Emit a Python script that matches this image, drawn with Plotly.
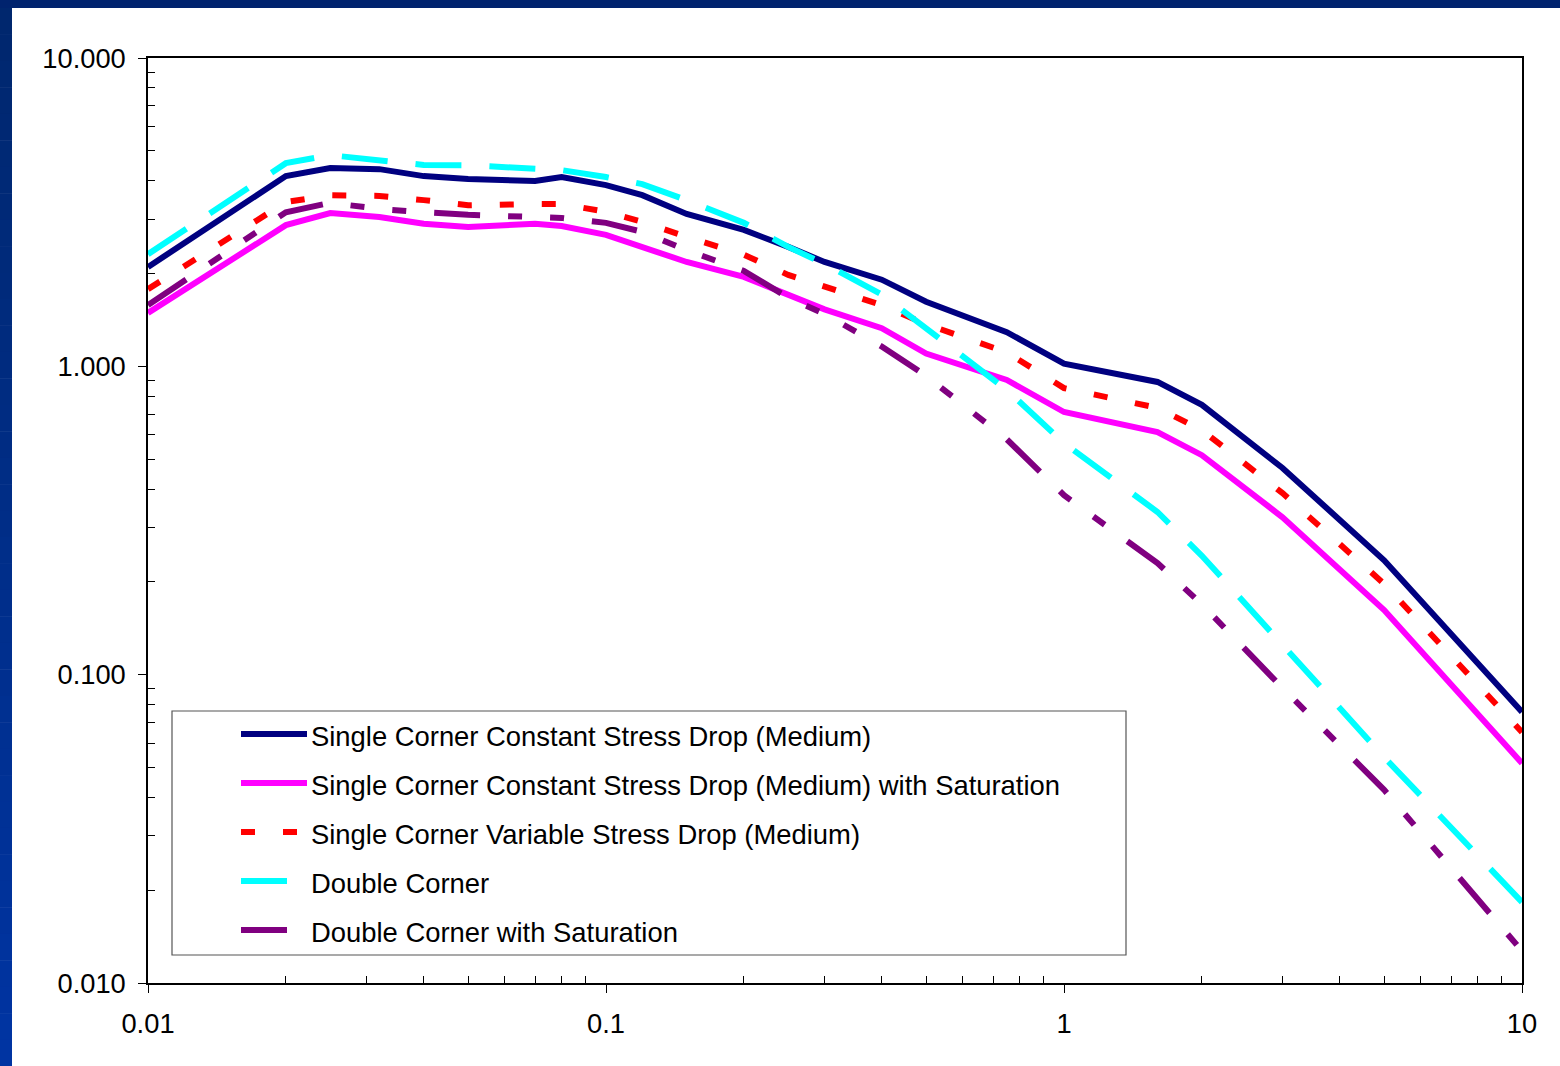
import plotly.graph_objects as go

# Spectral period (s)
period = [0.01, 0.02, 0.025, 0.032, 0.04, 0.05, 0.07, 0.08, 0.1, 0.12, 0.15, 0.2,
          0.25, 0.3, 0.4, 0.5, 0.75, 1.0, 1.6, 2.0, 3.0, 4.0, 5.0, 10.0]

# Spectral acceleration for each model
sc_const = [2.10, 4.14, 4.40, 4.36, 4.14, 4.05, 3.99, 4.11, 3.87, 3.59, 3.12, 2.77,
            2.44, 2.18, 1.91, 1.62, 1.29, 1.02, 0.89, 0.75, 0.468, 0.317, 0.235, 0.0757]
sc_const_sat = [1.49, 2.87, 3.14, 3.05, 2.90, 2.83, 2.90, 2.85, 2.67, 2.44, 2.18, 1.95,
                1.70, 1.53, 1.33, 1.10, 0.903, 0.711, 0.612, 0.515, 0.324, 0.219, 0.162, 0.0516]
sc_var = [1.78, 3.41, 3.59, 3.57, 3.46, 3.33, 3.36, 3.36, 3.17, 2.94, 2.63, 2.30,
          1.98, 1.81, 1.58, 1.37, 1.11, 0.85, 0.733, 0.621, 0.388, 0.265, 0.197, 0.0651]
double_corner = [2.31, 4.56, 4.84, 4.67, 4.50, 4.49, 4.41, 4.33, 4.11, 3.90, 3.46, 2.92,
                 2.44, 2.15, 1.71, 1.33, 0.838, 0.564, 0.337, 0.243, 0.125, 0.078, 0.054, 0.0183]
double_corner_sat = [1.58, 3.16, 3.39, 3.24, 3.16, 3.10, 3.05, 3.03, 2.92, 2.73, 2.38, 2.04,
                     1.67, 1.48, 1.16, 0.931, 0.58, 0.382, 0.230, 0.169, 0.0905, 0.059, 0.0423, 0.0127]

series_names = [
    "Single Corner Constant Stress Drop (Medium)",
    "Single Corner Constant Stress Drop (Medium) with Saturation",
    "Single Corner Variable Stress Drop (Medium)",
    "Double Corner",
    "Double Corner with Saturation",
]
series_values = [sc_const, sc_const_sat, sc_var, double_corner, double_corner_sat]
series_colors = ["#000080", "#FF00FF", "#FF0000", "#00FFFF", "#800080"]
series_dash = ["solid", "solid", "14px,28px", "46px,28px",
               "46px,28px,14px,28px,14px,28px"]

x_tickvals = [0.01, 0.1, 1, 10]
x_ticktext = ["0.01", "0.1", "1", "10"]
y_tickvals = [0.01, 0.1, 1, 10]
y_ticktext = ["0.010", "0.100", "1.000", "10.000"]

W, H = 1560, 1066
ML, MR, MT, MB = 148, 38, 58, 83
PW, PH = W - ML - MR, H - MT - MB


def px_x(p):
    return (p - ML) / PW


def px_y(p):
    return (H - MB - p) / PH


FONT = "Liberation Sans, Arial, sans-serif"

fig = go.Figure()
for name, vals, col, dash in zip(series_names, series_values, series_colors, series_dash):
    fig.add_trace(go.Scatter(
        x=period, y=vals, name=name, mode="lines",
        line=dict(color=col, width=6, dash=dash),
        showlegend=False,
    ))

minor_vals = [m * 10 ** e for e in range(-2, 1) for m in range(2, 10)]

axis_common = dict(
    type="log", range=[-2, 1],
    showgrid=False, zeroline=False,
    showline=True, linecolor="#000000", linewidth=1.5, mirror=True,
    ticks="outside", ticklen=8, tickwidth=1, tickcolor="#000000",
    tickfont=dict(family=FONT, size=27.3, color="#000000"),
    tickmode="array",
    minor=dict(tickmode="array", tickvals=minor_vals, ticks="inside",
               ticklen=7, tickwidth=1, tickcolor="#000000", showgrid=False),
)

fig.update_xaxes(**axis_common, tickvals=x_tickvals, ticktext=x_ticktext,
                 ticklabelstandoff=7)
fig.update_yaxes(**axis_common, tickvals=y_tickvals, ticktext=y_ticktext,
                 ticklabelstandoff=7)

shapes = []
# slide frame: dark blue band on top and a shaded band down the left side
shapes.append(dict(type="rect", xref="paper", yref="paper",
                   x0=px_x(0), x1=px_x(W), y0=px_y(8), y1=px_y(0),
                   fillcolor="#00236E", line=dict(width=0), layer="above"))
n_band = 40
for i in range(n_band):
    t = i / (n_band - 1)
    g = int(round(0x27 + (0x34 - 0x27) * t))
    b = int(round(0x6E + (0xA2 - 0x6E) * t))
    y0 = 8 + (H - 8) * i / n_band
    y1 = 8 + (H - 8) * (i + 1) / n_band
    shapes.append(dict(type="rect", xref="paper", yref="paper",
                       x0=px_x(0), x1=px_x(12), y0=px_y(y1 + 0.5), y1=px_y(y0),
                       fillcolor=f"rgb(0,{g},{b})", line=dict(width=0), layer="above"))

# legend box
shapes.append(dict(type="rect", xref="paper", yref="paper",
                   x0=px_x(172), x1=px_x(1126), y0=px_y(955), y1=px_y(711),
                   fillcolor="#FFFFFF", line=dict(color="#555555", width=1.2),
                   layer="above"))

row_y = [734, 783, 832, 881, 930]
sample_x1 = [307, 307, 297, 290, 290]
annotations = []
for name, col, dash, ry, sx1 in zip(series_names, series_colors, series_dash, row_y, sample_x1):
    shapes.append(dict(type="line", xref="paper", yref="paper",
                       x0=px_x(241), x1=px_x(sx1), y0=px_y(ry), y1=px_y(ry),
                       line=dict(color=col, width=6, dash=dash), layer="above"))
    annotations.append(dict(xref="paper", yref="paper", x=px_x(309), y=px_y(ry + 2),
                            xanchor="left", yanchor="middle", showarrow=False,
                            text=name, font=dict(family=FONT, size=27.4, color="#000000")))

fig.update_layout(
    width=W, height=H, autosize=False,
    margin=dict(l=ML, r=MR, t=MT, b=MB, pad=0),
    paper_bgcolor="#FFFFFF", plot_bgcolor="#FFFFFF",
    shapes=shapes, annotations=annotations,
    showlegend=False,
)

fig.write_html("out.html")
